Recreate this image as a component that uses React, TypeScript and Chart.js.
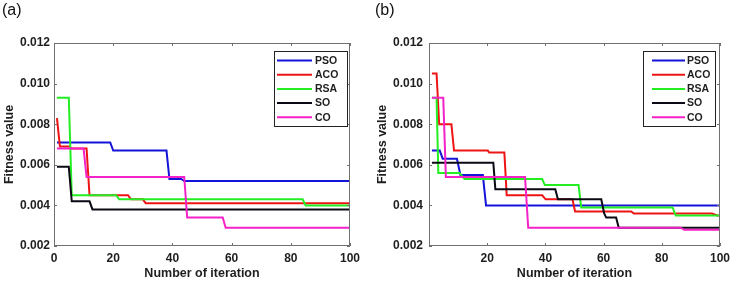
import React, { useEffect, useRef } from "react";
import { Chart, registerables } from "chart.js";
Chart.register(...registerables);

const SERIES_NAMES = ["PSO", "ACO", "RSA", "SO", "CO"];
const SERIES_COLORS = ["#1414d8", "#ee1414", "#22ee22", "#0a0a14", "#f422c8"];
const X_TICKS = [0, 20, 40, 60, 80, 100];
const Y_TICKS = [0.002, 0.004, 0.006, 0.008, 0.01, 0.012];

// Panel (a) breakpoints (iteration, fitness)
const A_PSO_X = [1, 19, 20, 38, 39, 43, 44, 100];
const A_PSO_Y = [0.0071, 0.0071, 0.0067, 0.0067, 0.0053, 0.0053, 0.0052, 0.0052];
const A_ACO_X = [1, 2, 5, 6, 11, 12, 25, 26, 30, 31, 100];
const A_ACO_Y = [0.0083, 0.0069, 0.0069, 0.0068, 0.0068, 0.0045, 0.0045, 0.0043, 0.0043, 0.0041, 0.0041];
const A_RSA_X = [1, 5, 6, 21, 22, 84, 85, 100];
const A_RSA_Y = [0.0093, 0.0093, 0.0045, 0.0045, 0.0043, 0.0043, 0.004, 0.004];
const A_SO_X = [1, 5, 6, 12, 13, 100];
const A_SO_Y = [0.0059, 0.0059, 0.0042, 0.0042, 0.0038, 0.0038];
const A_CO_X = [1, 10, 11, 44, 45, 57, 58, 100];
const A_CO_Y = [0.0068, 0.0068, 0.0054, 0.0054, 0.0034, 0.0034, 0.0029, 0.0029];

// Panel (b) breakpoints
const B_PSO_X = [1, 3.7, 4.7, 9.6, 10.8, 18.5, 19.6, 100];
const B_PSO_Y = [0.0067, 0.0067, 0.0063, 0.0063, 0.0055, 0.0055, 0.004, 0.004];
const B_ACO_X = [1, 2.6, 3.5, 7.7, 8.6, 20.2, 20.7, 25.9, 26.7, 38.9, 40.1, 49.3, 50.2, 69.5, 70.4, 97.3, 99, 100];
const B_ACO_Y = [0.0105, 0.0105, 0.008, 0.008, 0.0067, 0.0067, 0.0066, 0.0066, 0.0045, 0.0045, 0.0043, 0.0043, 0.0037, 0.0037, 0.0036, 0.0036, 0.0035, 0.0035];
const B_RSA_X = [1, 2.6, 3.2, 10.5, 12.2, 38.9, 39.8, 51.4, 52.3, 83.7, 84.8, 100];
const B_RSA_Y = [0.0093, 0.0093, 0.0056, 0.0056, 0.0053, 0.0053, 0.005, 0.005, 0.0039, 0.0039, 0.0035, 0.0035];
const B_SO_X = [1, 22.1, 22.8, 43.4, 44.3, 59.2, 60.2, 60.9, 64.3, 65.2, 100];
const B_SO_Y = [0.0061, 0.0061, 0.0048, 0.0048, 0.0043, 0.0043, 0.0036, 0.0034, 0.0034, 0.0029, 0.0029];
const B_CO_X = [1, 4.9, 5.8, 33, 34.1, 86.5, 87.7, 100];
const B_CO_Y = [0.0093, 0.0093, 0.0054, 0.0054, 0.0029, 0.0029, 0.0028, 0.0028];

const FONT = '"Liberation Sans", Arial, sans-serif';
const TEXT_COLOR = "#1e1e1e";

function makeDatasets(xs: number[][], ys: number[][]) {
  return SERIES_NAMES.map((name, i) => ({
    label: name,
    data: xs[i].map((x, j) => ({ x, y: ys[i][j] })),
    borderColor: SERIES_COLORS[i],
    backgroundColor: SERIES_COLORS[i],
    borderWidth: 2,
    pointRadius: 0,
    fill: false,
    tension: 0,
    order: SERIES_NAMES.length - i,
  }));
}

const framePlugin = {
  id: "frame",
  afterDraw(chart: any, _args: any, opts: any) {
    const { ctx, chartArea, scales } = chart;
    const { left, right, top, bottom } = chartArea;
    ctx.save();
    // axes box
    ctx.strokeStyle = "#707070";
    ctx.lineWidth = 1;
    ctx.strokeRect(left + 0.5, top + 0.5, right - left - 1, bottom - top - 1);
    const tl = 3;
    ctx.beginPath();
    X_TICKS.forEach((v) => {
      const px = Math.round(scales.x.getPixelForValue(v)) + 0.5;
      ctx.moveTo(px, bottom);
      ctx.lineTo(px, bottom - tl);
      ctx.moveTo(px, top);
      ctx.lineTo(px, top + tl);
    });
    Y_TICKS.forEach((v) => {
      const py = Math.round(scales.y.getPixelForValue(v)) + 0.5;
      ctx.moveTo(left, py);
      ctx.lineTo(left + tl, py);
      ctx.moveTo(right, py);
      ctx.lineTo(right - tl, py);
    });
    ctx.stroke();

    // legend
    const lg = opts.legend;
    ctx.fillStyle = "#ffffff";
    ctx.fillRect(lg.x, lg.y, lg.w, lg.h);
    ctx.strokeStyle = "#222222";
    ctx.strokeRect(lg.x + 0.5, lg.y + 0.5, lg.w, lg.h);
    ctx.font = `bold 10.5px ${FONT}`;
    ctx.textBaseline = "middle";
    ctx.textAlign = "left";
    SERIES_NAMES.forEach((name, i) => {
      const yy = lg.y + lg.first + i * lg.gap;
      ctx.strokeStyle = SERIES_COLORS[i];
      ctx.lineWidth = 2;
      ctx.beginPath();
      ctx.moveTo(lg.lineX0, yy);
      ctx.lineTo(lg.lineX1, yy);
      ctx.stroke();
      ctx.fillStyle = TEXT_COLOR;
      ctx.fillText(name, lg.textX, yy + 0.5);
    });

    // panel label
    ctx.font = `16px ${FONT}`;
    ctx.fillStyle = "#111111";
    ctx.textBaseline = "alphabetic";
    ctx.fillText(opts.label, opts.labelX, 14.5);
    ctx.restore();
  },
};

type PanelProps = {
  xs: number[][];
  ys: number[][];
  width: number;
  left: number;
  padRight: number;
  yAxisWidth: number;
  yTickPad: number;
  yTitlePad: number;
  hideZero: boolean;
  label: string;
  labelX: number;
  legend: any;
};

function Panel(p: PanelProps) {
  const ref = useRef<HTMLCanvasElement | null>(null);
  useEffect(() => {
    const canvas = ref.current;
    if (!canvas) return;
    const chart = new Chart(canvas, {
      type: "line",
      data: { datasets: makeDatasets(p.xs, p.ys) as any },
      plugins: [framePlugin as any],
      options: {
        animation: false,
        responsive: false,
        devicePixelRatio: 1,
        layout: { padding: { left: 0, right: p.padRight, top: 43, bottom: 0 } },
        plugins: {
          legend: { display: false },
          tooltip: { enabled: false },
          frame: { legend: p.legend, label: p.label, labelX: p.labelX },
        } as any,
        scales: {
          x: {
            type: "linear",
            min: 0,
            max: 100,
            afterBuildTicks: (scale: any) => {
              scale.ticks = X_TICKS.map((v) => ({ value: v }));
            },
            afterFit: (scale: any) => {
              scale.height = 35;
            },
            grid: { display: false, drawTicks: false },
            border: { display: false },
            ticks: {
              autoSkip: false,
              maxRotation: 0,
              padding: 5,
              color: TEXT_COLOR,
              font: { family: FONT, size: 12, weight: "bold" },
              callback: (v: any) => (p.hideZero && Number(v) === 0 ? "" : String(v)),
            },
            title: {
              display: true,
              text: "Number of iteration",
              color: TEXT_COLOR,
              font: { family: FONT, size: 12.5, weight: "bold", lineHeight: 1 },
              padding: { top: 0, bottom: 0.75 },
            },
          },
          y: {
            type: "linear",
            min: 0.002,
            max: 0.012,
            afterBuildTicks: (scale: any) => {
              scale.ticks = Y_TICKS.map((v) => ({ value: v }));
            },
            afterFit: (scale: any) => {
              scale.width = p.yAxisWidth;
            },
            grid: { display: false, drawTicks: false },
            border: { display: false },
            ticks: {
              padding: p.yTickPad,
              color: TEXT_COLOR,
              font: { family: FONT, size: 12, weight: "bold" },
              callback: (v: any) => Number(v).toFixed(3),
            },
            title: {
              display: true,
              text: "Fitness value",
              color: TEXT_COLOR,
              font: { family: FONT, size: 12.5, weight: "bold", lineHeight: 1 },
              padding: { top: p.yTitlePad, bottom: 0 },
            },
          },
        },
      } as any,
    });
    return () => chart.destroy();
  }, []);
  return (
    <canvas
      ref={ref}
      width={p.width}
      height={281}
      style={{ position: "absolute", left: p.left, top: 0, width: p.width, height: 281 }}
    />
  );
}

export default function App() {
  return (
    <div style={{ position: "fixed", left: 0, top: 0, width: 735, height: 281, background: "#ffffff" }}>
      <Panel
        xs={[A_PSO_X, A_ACO_X, A_RSA_X, A_SO_X, A_CO_X]}
        ys={[A_PSO_Y, A_ACO_Y, A_RSA_Y, A_SO_Y, A_CO_Y]}
        width={367}
        left={0}
        padRight={17}
        yAxisWidth={54}
        yTickPad={4}
        yTitlePad={3.75}
        hideZero={false}
        label="(a)"
        labelX={2}
        legend={{ x: 274, y: 51, w: 73, h: 75, first: 9.5, gap: 14.2, lineX0: 277, lineX1: 312, textX: 315 }}
      />
      <Panel
        xs={[B_PSO_X, B_ACO_X, B_RSA_X, B_SO_X, B_CO_X]}
        ys={[B_PSO_Y, B_ACO_Y, B_RSA_Y, B_SO_Y, B_CO_Y]}
        width={368}
        left={367}
        padRight={12}
        yAxisWidth={62}
        yTickPad={6}
        yTitlePad={9.75}
        hideZero={true}
        label="(b)"
        labelX={8}
        legend={{ x: 276, y: 51, w: 72, h: 75, first: 9.5, gap: 14.2, lineX0: 285, lineX1: 318, textX: 320 }}
      />
    </div>
  );
}
